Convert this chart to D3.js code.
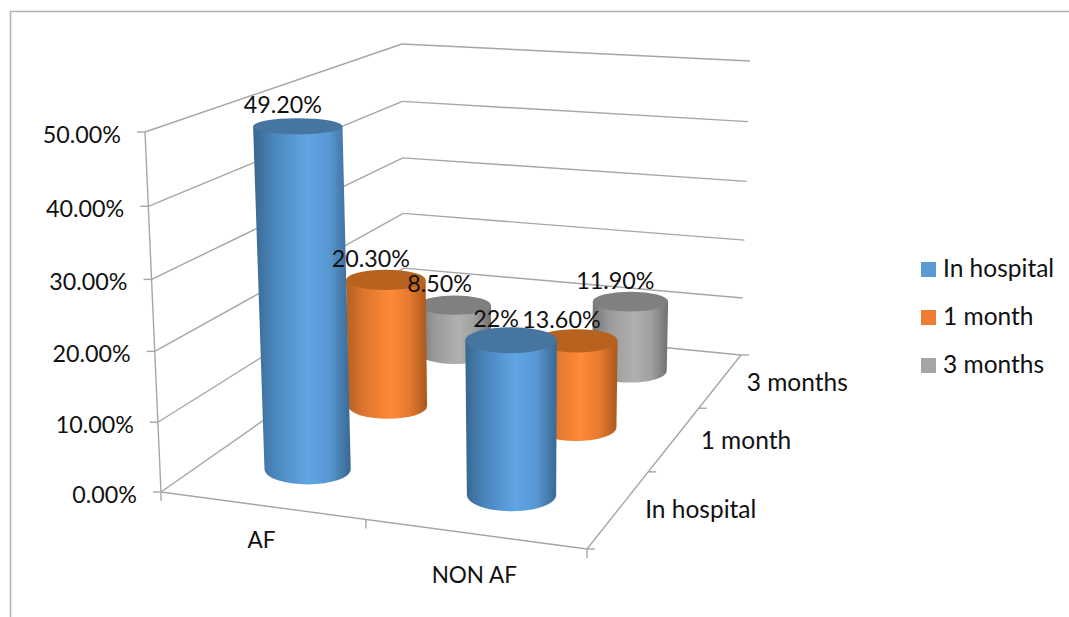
<!DOCTYPE html>
<html>
<head>
<meta charset="utf-8">
<script src="https://cdn.jsdelivr.net/npm/d3@7"></script>
<style>
  html, body { margin: 0; padding: 0; background: #fff; }
  svg { display: block; }
  text { font-family: Lato, "Open Sans", sans-serif; fill: #111; }
</style>
</head>
<body>
<div id="chart"></div>
<script>
// Chart content
const categories = ["AF", "NON AF"];
const seriesNames = ["In hospital", "1 month", "3 months"];
const inHospital = [49.2, 22];
const oneMonth = [20.3, 13.6];
const threeMonths = [8.5, 11.9];
const inHospitalLabels = ["49.20%", "22%"];
const oneMonthLabels = ["20.30%", "13.60%"];
const threeMonthsLabels = ["8.50%", "11.90%"];
const valueTicks = [0, 10, 20, 30, 40, 50];

// Styling per series: flat legend swatch, cap colour, shaded side ramp
const swatchColors = ["#5b9bd5", "#ed7d31", "#a5a5a5"];
const capColors = ["#46769f", "#b8621f", "#808080"];
const sideRamps = [
  ["#39678f", "#4a86bd", "#61a5e5", "#5797d2", "#3a6892"],
  ["#b3601f", "#dc7530", "#ff8a36", "#e67a30", "#a9591d"],
  ["#747474", "#9a9a9a", "#b0b0b0", "#a0a0a0", "#707070"]
];

const width = 1069, height = 617;
const numberSize = 23.3, wordSize = 24.5, categorySize = 22.5;

// The plot box in screen space: floor and ceiling quadrilaterals,
// ordered front-left, front-right, back-right, back-left.
const floorQuad = [[161, 492], [587, 549], [741, 355], [404, 322]];
const ceilingQuad = [[145, 132], [591, 165], [750, 61], [402, 44]];

// Maps the unit square onto a quadrilateral with a perspective transform.
function squareToQuad(q) {
  const [[x0, y0], [x1, y1], [x2, y2], [x3, y3]] = q;
  const dx1 = x1 - x2, dx2 = x3 - x2, sx = x0 - x1 + x2 - x3;
  const dy1 = y1 - y2, dy2 = y3 - y2, sy = y0 - y1 + y2 - y3;
  const den = dx1 * dy2 - dx2 * dy1;
  const g = (sx * dy2 - dx2 * sy) / den;
  const h = (dx1 * sy - sx * dy1) / den;
  const a = x1 - x0 + g * x1, b = x3 - x0 + h * x3, c = x0;
  const d = y1 - y0 + g * y1, e = y3 - y0 + h * y3, f = y0;
  return (u, w) => {
    const k = g * u + h * w + 1;
    return [(a * u + b * w + c) / k, (d * u + e * w + f) / k];
  };
}
const floorMap = squareToQuad(floorQuad);
const ceilingMap = squareToQuad(ceilingQuad);

// Data scales onto the unit box
const xScale = d3.scaleBand().domain(categories).range([0, 1]);
const zScale = d3.scaleBand().domain(seriesNames).range([0, 1]);
const yScale = d3.scaleLinear().domain([0, 50]).range([0, 1]);

// Vertical foreshortening: heights compress slightly toward the floor
const foreshorten = t => t / (1 + 0.04 * (1 - t));

// Unit box coordinates (across, depth, up) to screen pixels
function project(u, w, t) {
  const a = floorMap(u, w), b = ceilingMap(u, w), s = foreshorten(t);
  return [a[0] + (b[0] - a[0]) * s, a[1] + (b[1] - a[1]) * s];
}

const radiusU = 0.1, radiusW = 0.068;

// Screen ellipse of the horizontal circle at a given height in the box
function ringAt(uc, wc, t) {
  const pts = d3.range(0, 2 * Math.PI, Math.PI / 18)
    .map(a => project(uc + radiusU * Math.cos(a), wc + radiusW * Math.sin(a), t));
  const [xMin, xMax] = d3.extent(pts, p => p[0]);
  const [yMin, yMax] = d3.extent(pts, p => p[1]);
  return { cx: (xMin + xMax) / 2, cy: (yMin + yMax) / 2, rx: (xMax - xMin) / 2, ry: (yMax - yMin) / 2 };
}

const svg = d3.select("#chart").append("svg").attr("width", width).attr("height", height);

// Outer chart frame, open at the right and bottom edges
svg.append("path")
  .attr("d", d3.line()([[10.5, height], [10.5, 11.5], [width, 11.5]]))
  .attr("fill", "none").attr("stroke", "#b3b3b3").attr("stroke-width", 1.5);

const defs = svg.append("defs");
sideRamps.forEach((ramp, i) => {
  const g = defs.append("linearGradient").attr("id", "side" + i);
  const offsets = [0, 0.22, 0.55, 0.78, 1];
  ramp.forEach((c, k) => g.append("stop").attr("offset", offsets[k]).attr("stop-color", c));
});

const axisColor = "#a6a6a6";
const grid = svg.append("g").attr("fill", "none").attr("stroke", axisColor).attr("stroke-width", 1.4);
const segment = (a, b) => grid.append("path").attr("d", d3.line()([a, b]));

// Wall gridlines
valueTicks.forEach(v => {
  const t = yScale(v);
  segment(project(0, 0, t), project(0, 1, t));
  segment(project(0, 1, t), project(1, 1, t));
  const p = project(0, 0, t);
  segment([p[0] - 8, p[1]], p);
});

// Axis lines along the front of the box
segment(project(0, 0, 0), project(0, 0, 1));
segment(project(0, 0, 0), project(1, 0, 0));
segment(project(1, 0, 0), project(1, 1, 0));

// Category and depth ticks
d3.range(0, categories.length + 1).forEach(i => {
  const p = project(i / categories.length, 0, 0);
  segment(p, [p[0], p[1] + 9]);
});
d3.range(0, seriesNames.length + 1).forEach(i => {
  const p = project(1, i / seriesNames.length, 0);
  segment(p, [p[0] + 8, p[1]]);
});

// Value axis labels
const tickFormat = v => d3.format(".2f")(v) + "%";
svg.append("g").selectAll("text").data(valueTicks).join("text")
  .attr("x", v => project(0, 0, yScale(v))[0] - 24)
  .attr("y", v => project(0, 0, yScale(v))[1] + 10.5)
  .attr("text-anchor", "end").attr("font-size", numberSize).text(tickFormat);

// Category labels under the front edge
svg.append("g").selectAll("text").data(categories).join("text")
  .attr("x", c => project(xScale(c) + xScale.bandwidth() / 2, 0, 0)[0])
  .attr("y", (c, i) => project(xScale(c) + xScale.bandwidth() / 2, 0, 0)[1] + 43 + i * 6)
  .attr("text-anchor", "middle").attr("font-size", categorySize).text(c => c);

// Depth labels beside the right floor edge
svg.append("g").selectAll("text").data(seriesNames).join("text")
  .attr("x", s => project(1, zScale(s) + zScale.bandwidth() / 2, 0)[0] + 26)
  .attr("y", s => project(1, zScale(s) + zScale.bandwidth() / 2, 0)[1] + 10)
  .attr("font-size", wordSize).text(s => s);

// Flatten the series into cylinders, painted back row first
const seriesValues = [inHospital, oneMonth, threeMonths];
const seriesLabels = [inHospitalLabels, oneMonthLabels, threeMonthsLabels];
const cylinders = [];
seriesNames.forEach((s, si) => categories.forEach((c, ci) => {
  const uc = xScale(c) + xScale.bandwidth() / 2;
  const wc = zScale(s) + zScale.bandwidth() / 2;
  const value = seriesValues[si][ci];
  cylinders.push({
    si, value, label: seriesLabels[si][ci],
    base: ringAt(uc, wc, 0), top: ringAt(uc, wc, yScale(value))
  });
}));
const paintOrder = d3.sort(cylinders, d => -d.si);

const bars = svg.append("g").selectAll("g").data(paintOrder).join("g");
bars.append("path")
  .attr("fill", d => `url(#side${d.si})`)
  .attr("d", ({ base, top }) =>
    `M${top.cx - top.rx},${top.cy}L${base.cx - base.rx},${base.cy}` +
    `A${base.rx},${base.ry} 0 0 0 ${base.cx + base.rx},${base.cy}` +
    `L${top.cx + top.rx},${top.cy}Z`);
bars.append("ellipse")
  .attr("fill", d => capColors[d.si])
  .attr("cx", d => d.top.cx).attr("cy", d => d.top.cy)
  .attr("rx", d => d.top.rx).attr("ry", d => d.top.ry);

// Value labels sit above and slightly left of each cap
svg.append("g").selectAll("text").data(cylinders).join("text")
  .attr("x", d => d.top.cx - 15)
  .attr("y", d => d.top.cy - 13)
  .attr("text-anchor", "middle").attr("font-size", numberSize).text(d => d.label);

// Legend
const legend = svg.append("g").selectAll("g").data(seriesNames).join("g")
  .attr("transform", (d, i) => `translate(921,${262 + i * 48})`);
legend.append("rect").attr("width", 15).attr("height", 15).attr("fill", (d, i) => swatchColors[i]);
legend.append("text").attr("x", 22).attr("y", 15).attr("font-size", wordSize).text(d => d);
</script>
</body>
</html>
